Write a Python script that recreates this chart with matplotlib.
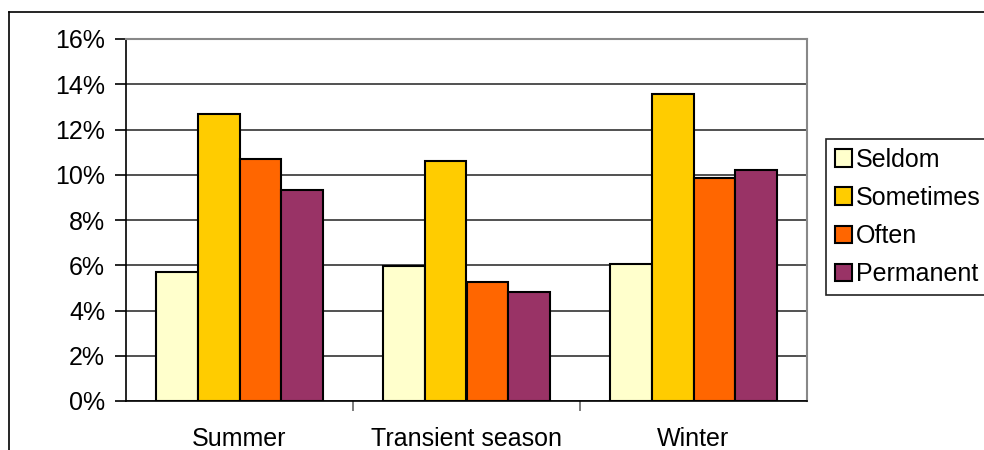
import matplotlib
matplotlib.use("Agg")
from matplotlib import pyplot as plt
from matplotlib.lines import Line2D
from matplotlib.ticker import PercentFormatter
import numpy as np

plt.rcParams['font.family'] = ['Liberation Sans', 'DejaVu Sans']

# Data (percent)
seasons = ["Summer", "Transient season", "Winter"]
series = ["Seldom", "Sometimes", "Often", "Permanent"]
seldom = [5.7, 5.97, 6.06]
sometimes = [12.69, 10.61, 13.57]
often = [10.7, 5.26, 9.86]
permanent = [9.33, 4.82, 10.21]
colors = ["#FFFFCC", "#FFCC00", "#FF6600", "#993366"]

fig = plt.figure(figsize=(9.84, 4.5), dpi=100)
ax = fig.add_axes([126/984, 49/450, 681/984, 362/450])

x = np.arange(len(seasons))
w = 0.184
for i, vals in enumerate([seldom, sometimes, often, permanent]):
    ax.bar(x + (i - 1.5) * w, vals, width=w, color=colors[i],
           edgecolor="black", linewidth=1.5, label=series[i], zorder=3)

ax.set_xlim(-0.5, 2.5)
ax.set_ylim(0, 16)
ax.set_yticks(np.arange(0, 17, 2))
ax.yaxis.set_major_formatter(PercentFormatter(decimals=0))
ax.grid(axis="y", color="#333333", linewidth=1.2, zorder=0)

ax.set_xticks(x)
ax.set_xticklabels(seasons)
ax.set_xticks([0.5, 1.5], minor=True)
ax.tick_params(axis="x", which="major", length=0, pad=19, labelsize=18)
ax.tick_params(axis="x", which="minor", length=7, width=1.2, color="#666666")
ax.tick_params(axis="y", length=8, width=1.2, pad=7, labelsize=18)

for s in ["top", "right"]:
    ax.spines[s].set_color("#888888")
    ax.spines[s].set_linewidth(1.5)
ax.spines["left"].set_linewidth(1.2)
ax.spines["bottom"].set_linewidth(1.2)

leg = ax.legend(loc="center left", bbox_to_anchor=(1.028, 0.508), fontsize=18,
                frameon=True, fancybox=False, edgecolor="#222222", framealpha=1,
                handlelength=0.7, handleheight=0.7, handletextpad=0.15,
                labelspacing=0.57, borderpad=0.35, borderaxespad=0)
leg.get_frame().set_linewidth(1.2)

# outer chart border (only top and left visible)
fig.add_artist(Line2D([9/984, 1], [1 - 12/450, 1 - 12/450], color="black", linewidth=1.2))
fig.add_artist(Line2D([9/984, 9/984], [0, 1 - 12/450], color="black", linewidth=1.2))

plt.savefig("out.png", dpi=100)
